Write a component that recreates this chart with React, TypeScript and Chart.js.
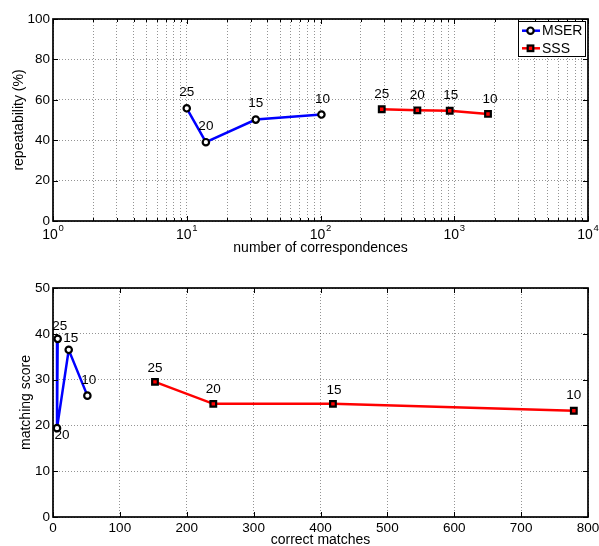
import React, { useEffect, useRef } from "react";
import { Chart, registerables } from "chart.js";

Chart.register(...registerables);

const FONT = "'Liberation Sans', Arial, Helvetica, sans-serif";

// Threshold labels attached to each point
const thresholdLabels = ["25", "20", "15", "10"];
const seriesNames = ["MSER", "SSS"];

// Top: repeatability vs number of correspondences (log x)
const repMserCorr = [10, 13.9, 32.8, 101.6];
const repMserVal = [55.8, 39.0, 50.2, 52.7];
const repSssCorr = [287, 530, 925, 1788];
const repSssVal = [55.3, 54.8, 54.6, 53.0];

// Bottom: matching score vs correct matches
const msMserMatches = [7, 6, 23.5, 51.4];
const msMserScore = [38.9, 19.4, 36.5, 26.5];
const msSssMatches = [152.5, 239.7, 418.6, 778.8];
const msSssScore = [29.5, 24.7, 24.7, 23.2];

// Axis ticks
const repYTicks = [0, 20, 40, 60, 80, 100];
const repXExponents = [0, 1, 2, 3, 4];
const msXTicks = [0, 100, 200, 300, 400, 500, 600, 700, 800];
const msYTicks = [0, 10, 20, 30, 40, 50];

// label pixel shifts (style only)
const repLabelShift = [
  [[0, -16], [0, -16], [0, -16], [1, -15]],
  [[0, -15], [0, -15], [1, -15], [2, -15]],
];
const msLabelShift = [
  [[2, -13], [5, 7], [2, -12], [1.5, -15]],
  [[0, -14], [0, -15], [1, -14], [0, -15]],
];

const logGridValues: number[] = [];
repXExponents.slice(0, 4).forEach((e) => {
  for (let m = 1; m <= 9; m++) logGridValues.push(m * Math.pow(10, e));
});
logGridValues.push(10000);

const isPow10 = (v: number) => Math.abs(Math.log10(v) - Math.round(Math.log10(v))) < 1e-9;

const gridOpts = { color: "rgba(0,0,0,0.42)", lineWidth: 1, drawTicks: false };
const borderOpts = { display: false, dash: [1, 2] };

function makeDatasets(mx: number[], my: number[], sx: number[], sy: number[]) {
  return [
    {
      label: seriesNames[0],
      data: mx.map((x, i) => ({ x, y: my[i] })),
      borderColor: "#0000ff",
      borderWidth: 2.5,
      pointStyle: "circle",
      pointRadius: 3.2,
      pointBorderColor: "#000",
      pointBorderWidth: 2.2,
      pointBackgroundColor: "#fff",
      fill: false,
      tension: 0,
      clip: false,
    },
    {
      label: seriesNames[1],
      data: sx.map((x, i) => ({ x, y: sy[i] })),
      borderColor: "#ff0000",
      borderWidth: 2.5,
      pointStyle: "rect",
      pointRadius: 4.0,
      pointBorderColor: "#000",
      pointBorderWidth: 2.2,
      pointBackgroundColor: "#ff0000",
      fill: false,
      tension: 0,
      clip: false,
    },
  ];
}

function matlabPlugin(o: {
  xTicks: number[];
  xMajor: (v: number) => boolean;
  yTicks: number[];
  shift: number[][][];
  legend: boolean;
  expLabels: boolean;
}) {
  return {
    id: "matlabStyle",
    afterDatasetsDraw(chart: any) {
      const ctx = chart.ctx;
      const { left, right, top, bottom } = chart.chartArea;
      const xs = chart.scales.x;
      const ys = chart.scales.y;
      ctx.save();
      ctx.font = `13.5px ${FONT}`;
      ctx.fillStyle = "#000";
      ctx.textAlign = "center";
      ctx.textBaseline = "middle";
      chart.data.datasets.forEach((_ds: any, di: number) => {
        const meta = chart.getDatasetMeta(di);
        meta.data.forEach((pt: any, i: number) => {
          const [dx, dy] = o.shift[di][i];
          ctx.fillText(thresholdLabels[i], pt.x + dx, pt.y + dy);
        });
      });
      // box
      ctx.strokeStyle = "#000";
      ctx.lineWidth = 1.7;
      ctx.strokeRect(left, top, right - left, bottom - top);
      // inward ticks
      ctx.lineWidth = 1;
      ctx.beginPath();
      o.xTicks.forEach((v) => {
        const px = Math.round(xs.getPixelForValue(v)) + 0.5;
        const len = o.xMajor(v) ? 5 : 3;
        ctx.moveTo(px, bottom);
        ctx.lineTo(px, bottom - len);
        ctx.moveTo(px, top);
        ctx.lineTo(px, top + len);
      });
      o.yTicks.forEach((v) => {
        const py = Math.round(ys.getPixelForValue(v)) + 0.5;
        ctx.moveTo(left, py);
        ctx.lineTo(left + 5, py);
        ctx.moveTo(right, py);
        ctx.lineTo(right - 5, py);
      });
      ctx.stroke();
      ctx.restore();
    },
    afterDraw(chart: any) {
      const ctx = chart.ctx;
      const { right, top, bottom } = chart.chartArea;
      ctx.save();
      if (o.expLabels) {
        const xs = chart.scales.x;
        repXExponents.forEach((e) => {
          const px = xs.getPixelForValue(Math.pow(10, e));
          ctx.font = `14px ${FONT}`;
          const wb = ctx.measureText("10").width;
          ctx.font = `9.5px ${FONT}`;
          const we = ctx.measureText(String(e)).width;
          const start = px - (wb + we + 0.5) / 2;
          ctx.fillStyle = "#000";
          ctx.textBaseline = "middle";
          ctx.textAlign = "left";
          ctx.font = `14px ${FONT}`;
          ctx.fillText("10", start, bottom + 14);
          ctx.font = `9.5px ${FONT}`;
          ctx.fillText(String(e), start + wb + 0.5, bottom + 7.5);
        });
      }
      if (o.legend) {
        const lx = right - 70;
        const ly = top + 2;
        const lw = 68;
        const lh = 36;
        ctx.fillStyle = "#fff";
        ctx.fillRect(lx, ly, lw, lh);
        ctx.strokeStyle = "#000";
        ctx.lineWidth = 1;
        ctx.strokeRect(lx + 0.5, ly + 0.5, lw - 1, lh - 1);
        const rows = [ly + 9.7, ly + 27.3];
        const colors = ["#0000ff", "#ff0000"];
        rows.forEach((ry, i) => {
          ctx.strokeStyle = colors[i];
          ctx.lineWidth = 2.5;
          ctx.beginPath();
          ctx.moveTo(lx + 4, ry);
          ctx.lineTo(lx + 22, ry);
          ctx.stroke();
          const mx = lx + 12.5;
          ctx.lineWidth = 2.2;
          ctx.strokeStyle = "#000";
          if (i === 0) {
            ctx.fillStyle = "#fff";
            ctx.beginPath();
            ctx.arc(mx, ry, 3.2, 0, Math.PI * 2);
            ctx.fill();
            ctx.stroke();
          } else {
            ctx.fillStyle = "#ff0000";
            ctx.fillRect(mx - 2.8, ry - 2.8, 5.6, 5.6);
            ctx.strokeRect(mx - 2.8, ry - 2.8, 5.6, 5.6);
          }
          ctx.fillStyle = "#000";
          ctx.font = `14px ${FONT}`;
          ctx.textAlign = "left";
          ctx.textBaseline = "middle";
          ctx.fillText(seriesNames[i], lx + 24, ry + 0.5);
        });
      }
      ctx.restore();
    },
  };
}

function topConfig(): any {
  return {
    type: "line",
    data: { datasets: makeDatasets(repMserCorr, repMserVal, repSssCorr, repSssVal) },
    options: {
      animation: false,
      responsive: false,
      events: [],
      layout: { padding: { top: 19, right: 11, left: 0, bottom: 0 } },
      plugins: { legend: { display: false }, tooltip: { enabled: false } },
      scales: {
        x: {
          type: "logarithmic",
          min: 1,
          max: 10000,
          afterBuildTicks: (s: any) => {
            s.ticks = logGridValues.map((v) => ({ value: v, major: isPow10(v) }));
          },
          afterFit: (s: any) => {
            s.height = 49;
            s.paddingLeft = 0;
            s.paddingRight = 0;
          },
          ticks: { display: false },
          grid: gridOpts,
          border: borderOpts,
          title: {
            display: true,
            text: "number of correspondences",
            color: "#000",
            font: { family: FONT, size: 14, lineHeight: 1 },
            padding: { top: 0, bottom: 14.5 },
          },
        },
        y: {
          type: "linear",
          min: 0,
          max: 100,
          afterBuildTicks: (s: any) => {
            s.ticks = repYTicks.map((v) => ({ value: v }));
          },
          afterFit: (s: any) => {
            s.width = 53;
            s.paddingTop = 0;
            s.paddingBottom = 0;
          },
          ticks: { color: "#000", padding: 3, font: { family: FONT, size: 13.5 } },
          grid: gridOpts,
          border: borderOpts,
          title: {
            display: true,
            text: "repeatability (%)",
            color: "#000",
            font: { family: FONT, size: 14, lineHeight: 1 },
            padding: { top: 12, bottom: 0 },
          },
        },
      },
    },
    plugins: [
      matlabPlugin({
        xTicks: logGridValues,
        xMajor: isPow10,
        yTicks: repYTicks,
        shift: repLabelShift,
        legend: true,
        expLabels: true,
      }),
    ],
  };
}

function bottomConfig(): any {
  return {
    type: "line",
    data: { datasets: makeDatasets(msMserMatches, msMserScore, msSssMatches, msSssScore) },
    options: {
      animation: false,
      responsive: false,
      events: [],
      layout: { padding: { top: 18, right: 11, left: 0, bottom: 0 } },
      plugins: { legend: { display: false }, tooltip: { enabled: false } },
      scales: {
        x: {
          type: "linear",
          min: 0,
          max: 800,
          afterBuildTicks: (s: any) => {
            s.ticks = msXTicks.map((v) => ({ value: v }));
          },
          afterFit: (s: any) => {
            s.height = 29;
            s.paddingLeft = 0;
            s.paddingRight = 0;
          },
          ticks: { color: "#000", padding: 3, maxRotation: 0, autoSkip: false, font: { family: FONT, size: 13.5 } },
          grid: gridOpts,
          border: borderOpts,
          title: {
            display: true,
            text: "correct matches",
            color: "#000",
            font: { family: FONT, size: 14, lineHeight: 1 },
            padding: { top: 0, bottom: -1 },
          },
        },
        y: {
          type: "linear",
          min: 0,
          max: 50,
          afterBuildTicks: (s: any) => {
            s.ticks = msYTicks.map((v) => ({ value: v }));
          },
          afterFit: (s: any) => {
            s.width = 53;
            s.paddingTop = 0;
            s.paddingBottom = 0;
          },
          ticks: { color: "#000", padding: 3, font: { family: FONT, size: 13.5 } },
          grid: gridOpts,
          border: borderOpts,
          title: {
            display: true,
            text: "matching score",
            color: "#000",
            font: { family: FONT, size: 14, lineHeight: 1 },
            padding: { top: 19, bottom: 0 },
          },
        },
      },
    },
    plugins: [
      matlabPlugin({
        xTicks: msXTicks,
        xMajor: () => true,
        yTicks: msYTicks,
        shift: msLabelShift,
        legend: false,
        expLabels: false,
      }),
    ],
  };
}

function ChartCanvas(props: { make: () => any; width: number; height: number; top: number }) {
  const ref = useRef<HTMLCanvasElement | null>(null);
  useEffect(() => {
    if (!ref.current) return;
    const c = new Chart(ref.current, props.make());
    return () => c.destroy();
  }, []);
  return (
    <canvas
      ref={ref}
      width={props.width}
      height={props.height}
      style={{ position: "absolute", left: 0, top: props.top, width: props.width, height: props.height }}
    />
  );
}

export default function App() {
  return (
    <div
      style={{
        position: "fixed",
        left: 0,
        top: 0,
        width: 599,
        height: 546,
        overflow: "hidden",
        background: "#fff",
      }}
    >
      <ChartCanvas make={topConfig} width={599} height={270} top={0} />
      <ChartCanvas make={bottomConfig} width={599} height={276} top={270} />
    </div>
  );
}
